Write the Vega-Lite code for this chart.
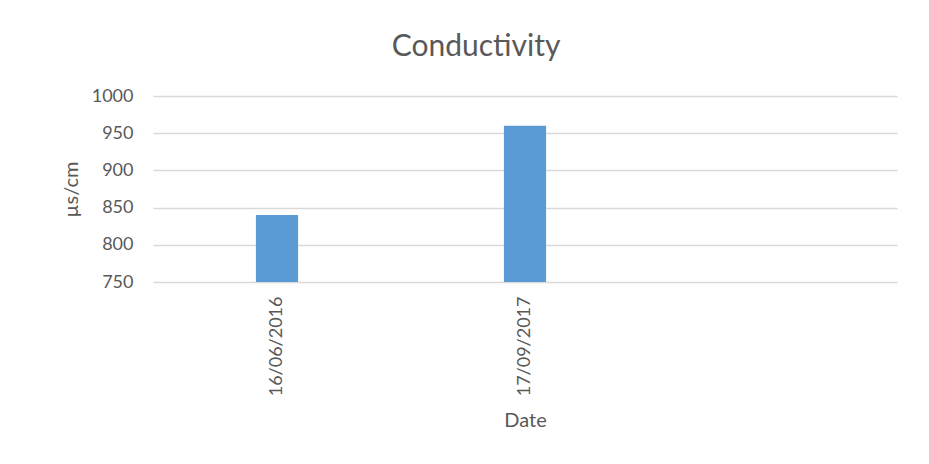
{
  "$schema": "https://vega.github.io/schema/vega-lite/v6.json",
  "autosize": {"type": "none"},
  "width": 744,
  "height": 186,
  "padding": {"left": 153, "top": 96, "right": 32, "bottom": 182},
  "background": "white",
  "title": {
    "text": "Conductivity",
    "font": "Lato",
    "fontSize": 30,
    "fontWeight": "normal",
    "color": "#595959",
    "anchor": "middle",
    "dx": -49,
    "offset": 25
  },
  "data": {
    "values": [
      {"date": "16/06/2016", "value": 840},
      {"date": "17/09/2017", "value": 960}
    ]
  },
  "mark": {"type": "bar", "color": "#5B9BD5", "width": {"band": 0.17}, "clip": true},
  "encoding": {
    "x": {
      "field": "date",
      "type": "nominal",
      "scale": {"domain": ["16/06/2016", "17/09/2017", " "], "paddingInner": 0, "paddingOuter": 0},
      "axis": {
        "title": "Date",
        "labelAngle": 270,
        "labelAlign": "right",
        "labelBaseline": "middle",
        "labelPadding": 14,
        "ticks": false,
        "domain": false,
        "titlePadding": 15
      }
    },
    "y": {
      "field": "value",
      "type": "quantitative",
      "scale": {"domain": [750, 1000], "nice": false, "zero": false},
      "axis": {
        "title": "µs/cm",
        "values": [750, 800, 850, 900, 950, 1000],
        "format": "d",
        "ticks": false,
        "domain": false,
        "labelPadding": 20,
        "titlePadding": 10
      }
    }
  },
  "config": {
    "view": {"stroke": null},
    "axis": {
      "labelFont": "Lato",
      "labelFontSize": 18,
      "labelColor": "#595959",
      "titleFont": "Lato",
      "titleFontSize": 20,
      "titleFontWeight": "normal",
      "titleColor": "#595959",
      "gridColor": "#D9D9D9",
      "gridWidth": 1.3,
      "gridOpacity": 1
    },
    "axisX": {"grid": false},
    "axisY": {"grid": true}
  }
}
